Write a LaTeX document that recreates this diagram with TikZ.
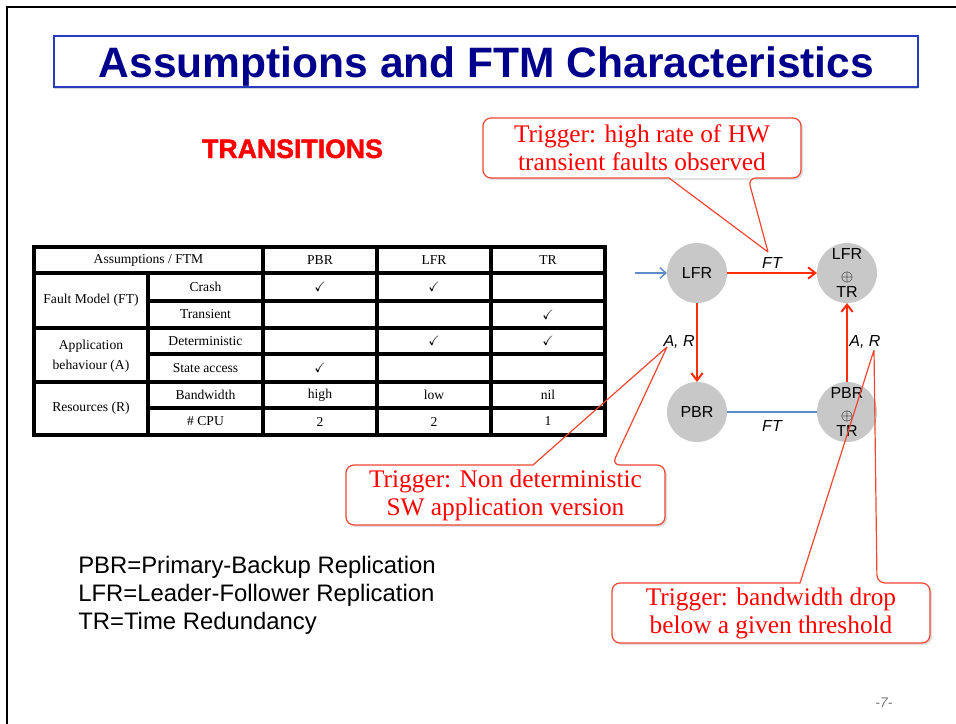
\documentclass[tikz,border=0pt]{standalone}
\usepackage{fontspec}
\usepackage{amssymb}
\setmainfont{Liberation Serif}
\setsansfont{Liberation Sans}
\newfontfamily\heavyfont[FakeBold=1.5]{Liberation Sans Bold}
\usetikzlibrary{arrows.meta,shadows}
\definecolor{titlenavy}{RGB}{0,0,140}
\definecolor{titleblue}{RGB}{40,60,190}
\definecolor{trred}{RGB}{255,0,0}
\definecolor{arrowred}{RGB}{255,45,10}
\definecolor{callred}{RGB}{240,70,50}
\definecolor{nodegray}{RGB}{200,200,200}
\definecolor{lineblue}{RGB}{95,140,200}
\definecolor{pagegray}{RGB}{120,120,120}
\newcommand{\bigop}{{\fontsize{13pt}{13pt}\selectfont\smash{\raisebox{-2pt}{$\oplus$}}}}
\begin{document}
\begin{tikzpicture}[x=0.75pt,y=-0.75pt,
  tline/.style={line width=2.5pt, line cap=rect},
  tcell/.style={font=\fontsize{10.2pt}{15pt}\selectfont, align=center, inner sep=0pt},
  stnode/.style={circle, fill=nodegray, minimum size=45pt, inner sep=0pt, outer sep=0pt, align=center, font=\sffamily\fontsize{12pt}{14pt}\selectfont},
  ftarrow/.style={draw=arrowred, line width=1.5pt, -{Straight Barb[length=5.5pt,width=8.5pt]}},
  blueline/.style={draw=lineblue, line width=1.1pt},
  elabel/.style={font=\sffamily\itshape\fontsize{12pt}{14pt}\selectfont, inner sep=0pt},
  callbox/.style={rectangle, rounded corners=6pt, fill=white, inner sep=0pt, align=center,
    drop shadow={shadow xshift=1.5pt, shadow yshift=-1.5pt, opacity=0.25},
    font=\fontsize{19pt}{21pt}\selectfont, text=trred},
  cline/.style={draw=callred, line width=0.9pt},
  legend/.style={anchor=base west, font=\sffamily\fontsize{17.9pt}{21pt}\selectfont, inner sep=0pt}
]
\useasboundingbox (0,0) rectangle (956,724);
% slide frame
\draw[line width=2.2pt] (7,724) -- (7,7) -- (956,7);

% title
\node[draw=titleblue, line width=1.1pt, fill=white, minimum width=648pt, minimum height=38.25pt,
  drop shadow={shadow xshift=0pt, shadow yshift=-1.2pt, opacity=0.35}] (titlebox) at (486,61.5) {};
\node[anchor=base, font=\sffamily\bfseries\fontsize{31.9pt}{36pt}\selectfont, text=titlenavy, inner sep=0pt] (title) at (486.5,78) {Assumptions and FTM Characteristics};

\node[anchor=base, font=\heavyfont\fontsize{20pt}{22pt}\selectfont, text=trred, inner sep=0pt] (trans) at (292.5,158) {TRANSITIONS};

% table grid
\foreach \yy in {247,273,328,382,435} \draw[tline] (34,\yy) -- (605,\yy);
\foreach \yy in {301,354,408} \draw[tline] (148,\yy) -- (605,\yy);
\foreach \xx in {34,263,377,491,605} \draw[tline] (\xx,247) -- (\xx,435);
\draw[tline] (148,273) -- (148,435);

% table text
\node[tcell] (h0) at (148.5,260) {Assumptions / FTM};
\node[tcell] (h1) at (320,260) {PBR};
\node[tcell] (h2) at (434,260) {LFR};
\node[tcell] (h3) at (548,260) {TR};
\node[tcell] (g1) at (91,300.5) {Fault Model (FT)};
\node[tcell] (g2) at (91,356) {Application\\behaviour (A)};
\node[tcell] (g3) at (91,408.5) {Resources (R)};
\node[tcell] (r1) at (205.5,287) {Crash};
\node[tcell] (r2) at (205.5,314.5) {Transient};
\node[tcell] (r3) at (205.5,341) {Deterministic};
\node[tcell] (r4) at (205.5,368) {State access};
\node[tcell] (r5) at (205.5,395) {Bandwidth};
\node[tcell] (r6) at (205.5,421.5) {\# CPU};
\node[tcell] (c11) at (320,287) {$\checkmark$};
\node[tcell] (c12) at (434,287) {$\checkmark$};
\node[tcell] (c23) at (548,314.5) {$\checkmark$};
\node[tcell] (c32) at (434,341) {$\checkmark$};
\node[tcell] (c33) at (548,341) {$\checkmark$};
\node[tcell] (c41) at (320,368) {$\checkmark$};
\node[tcell] (c51) at (320,395) {high};
\node[tcell] (c52) at (434,395) {low};
\node[tcell] (c53) at (548,395) {nil};
\node[tcell] (c61) at (320,421.5) {2};
\node[tcell] (c62) at (434,421.5) {2};
\node[tcell] (c63) at (548,421.5) {1};

% state diagram
\node[stnode] (lfr) at (697,273) {LFR};
\node[stnode] (lt) at (847,273) {LFR\\\bigop\\TR};
\node[stnode] (pbr) at (697,412) {PBR};
\node[stnode] (pt) at (847,412) {PBR\\\bigop\\TR};
\coordinate (inL) at (635,273);
\draw[draw=lineblue, line width=1.1pt, -{Straight Barb[length=4.5pt,width=8pt]}] (inL) -- (lfr);
\draw[ftarrow] (lfr) -- node[elabel, above=2.5pt] (lab1) {FT} (lt);
\draw[ftarrow] (lfr) -- node[elabel, left=1pt] (lab2) {A, R} (pbr);
\draw[ftarrow] (pt) -- node[elabel, right=1pt] (lab3) {A, R} (lt);
\draw[blueline] (pbr) -- node[elabel, below=6pt] (lab4) {FT} (pt);

% callouts
\coordinate (t1) at (768,252);
\coordinate (t2) at (667,347);
\coordinate (t3) at (874,350);

\node[callbox, minimum width=238.5pt, minimum height=45pt] (c1) at (642,148) {Trigger: high rate of HW\\transient faults observed};
\draw[cline] (t1) -- (669,178) [rounded corners=6pt] -- (483,178) -- (483,118) -- (801,118) -- (801,178) -- (748,178) [sharp corners] -- (t1);

\node[callbox, minimum width=239.25pt, minimum height=45pt] (c2) at (505.5,495) {Trigger: Non deterministic\\SW application version};
\draw[cline] (t2) -- (533,465) [rounded corners=6pt] -- (346,465) -- (346,525) -- (665,525) -- (665,465) -- (612,465) [sharp corners] -- (t2);

\node[callbox, minimum width=238.5pt, minimum height=45pt] (c3) at (771,613) {Trigger: bandwidth drop\\below a given threshold};
\draw[cline] (t3) -- (800,583) [rounded corners=6pt] -- (612,583) -- (612,643) -- (930,643) -- (930,583) -- (877,583) [sharp corners] -- (t3);

% legend
\node[legend] (l1) at (78,573) {PBR=Primary-Backup Replication};
\node[legend] (l2) at (78,601) {LFR=Leader-Follower Replication};
\node[legend] (l3) at (78,629) {TR=Time Redundancy};

% page number
\node[font=\sffamily\itshape\fontsize{10.5pt}{12pt}\selectfont, text=pagegray, inner sep=0pt] (pg) at (884,703) {-7-};
\end{tikzpicture}
\end{document}
